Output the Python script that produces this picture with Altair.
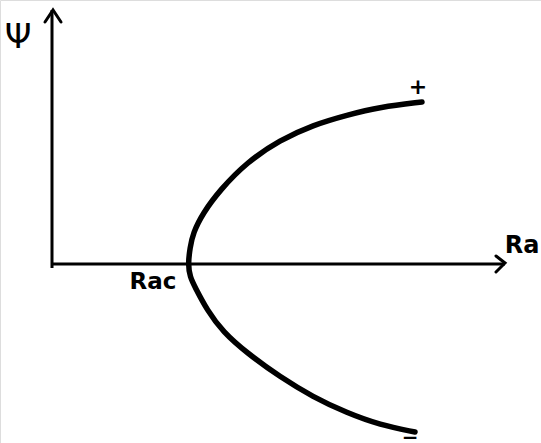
import altair as alt
import pandas as pd

# Pitchfork bifurcation sketch: stream-function amplitude psi versus Rayleigh number Ra
RA_C = 13.6

# Upper (+) branch
ra_upper = [13.6, 13.8, 14.1, 15.1, 16.8, 19.5, 22.8, 26.1, 29.5, 32.8, 37.0]
psi_upper = [0.0, 1.6, 3.1, 5.1, 7.4, 10.2, 12.4, 13.9, 14.9, 15.7, 16.2]

# Lower (-) branch
ra_lower = [13.6, 13.8, 14.3, 15.5, 17.1, 19.5, 22.8, 26.1, 29.5, 32.8, 36.3]
psi_lower = [0.0, -1.3, -2.3, -4.6, -6.8, -8.9, -11.3, -13.3, -14.9, -16.1, -16.8]

# Axis extents (Ra axis and psi axis) and arrowheads
ra_axis_end = 45.3
psi_axis_top = 25.4
psi_axis_bottom = -0.4

X_DOMAIN = [-5.2, 48.9]
Y_DOMAIN = [-17.9, 26.4]

# one continuous curve: lower branch reversed, then the upper branch
curve_ra = ra_lower[::-1] + ra_upper[1:]
curve_psi = psi_lower[::-1] + psi_upper[1:]
curve = pd.DataFrame({"Ra": curve_ra, "psi": curve_psi, "k": range(len(curve_ra))})

axes = pd.DataFrame({
    "Ra": [0.0, 0.0, 0.0, ra_axis_end],
    "psi": [psi_axis_bottom, psi_axis_top, 0.0, 0.0],
    "axis": ["psi", "psi", "Ra", "Ra"],
    "k": [0, 1, 0, 1],
})

heads = pd.DataFrame({
    "Ra": [-0.7, 0.1, 0.9, 44.4, ra_axis_end, 44.4],
    "psi": [24.2, psi_axis_top, 24.2, 0.8, 0.1, -0.8],
    "axis": ["psi", "psi", "psi", "Ra", "Ra", "Ra"],
    "k": [0, 1, 2, 0, 1, 2],
})

labels = pd.DataFrame({
    "Ra": [-3.4, 47.0, RA_C - 3.5, 36.6, 35.8],
    "psi": [22.6, 1.8, -1.8, 17.7, -17.4],
    "txt": ["Ψ", "Ra", "Rac", "+", "−"],
    "size": [34, 24, 23, 22, 20],
    "weight": ["normal", "bold", "bold", "bold", "bold"],
})

x = alt.X("Ra:Q", scale=alt.Scale(domain=X_DOMAIN, nice=False, zero=False), axis=None)
y = alt.Y("psi:Q", scale=alt.Scale(domain=Y_DOMAIN, nice=False, zero=False), axis=None)

axis_lines = alt.Chart(axes).mark_line(color="black", strokeWidth=3).encode(
    x=x, y=y, detail="axis:N", order="k:Q"
)
arrow_heads = alt.Chart(heads).mark_line(
    color="black", strokeWidth=3, strokeJoin="miter", strokeCap="round"
).encode(x=x, y=y, detail="axis:N", order="k:Q")

branch = alt.Chart(curve).mark_line(
    color="black", strokeWidth=5.5, interpolate="basis", strokeCap="round"
).encode(x=x, y=y, order="k:Q")

def label_layer(weight):
    return alt.Chart(labels).transform_filter(
        alt.datum.weight == weight
    ).mark_text(
        font="DejaVu Sans", fontWeight=weight, color="black", baseline="middle", align="center"
    ).encode(x=x, y=y, text="txt:N", size=alt.Size("size:Q", scale=None, legend=None))

chart = alt.layer(
    axis_lines, arrow_heads, branch, label_layer("bold"), label_layer("normal")
).properties(
    width=541, height=443, autosize=alt.AutoSizeParams(type="none"), padding=0
).configure_view(stroke=None).configure(background="white")

chart.save("out.html", embed_options={"renderer": "svg", "actions": False})
